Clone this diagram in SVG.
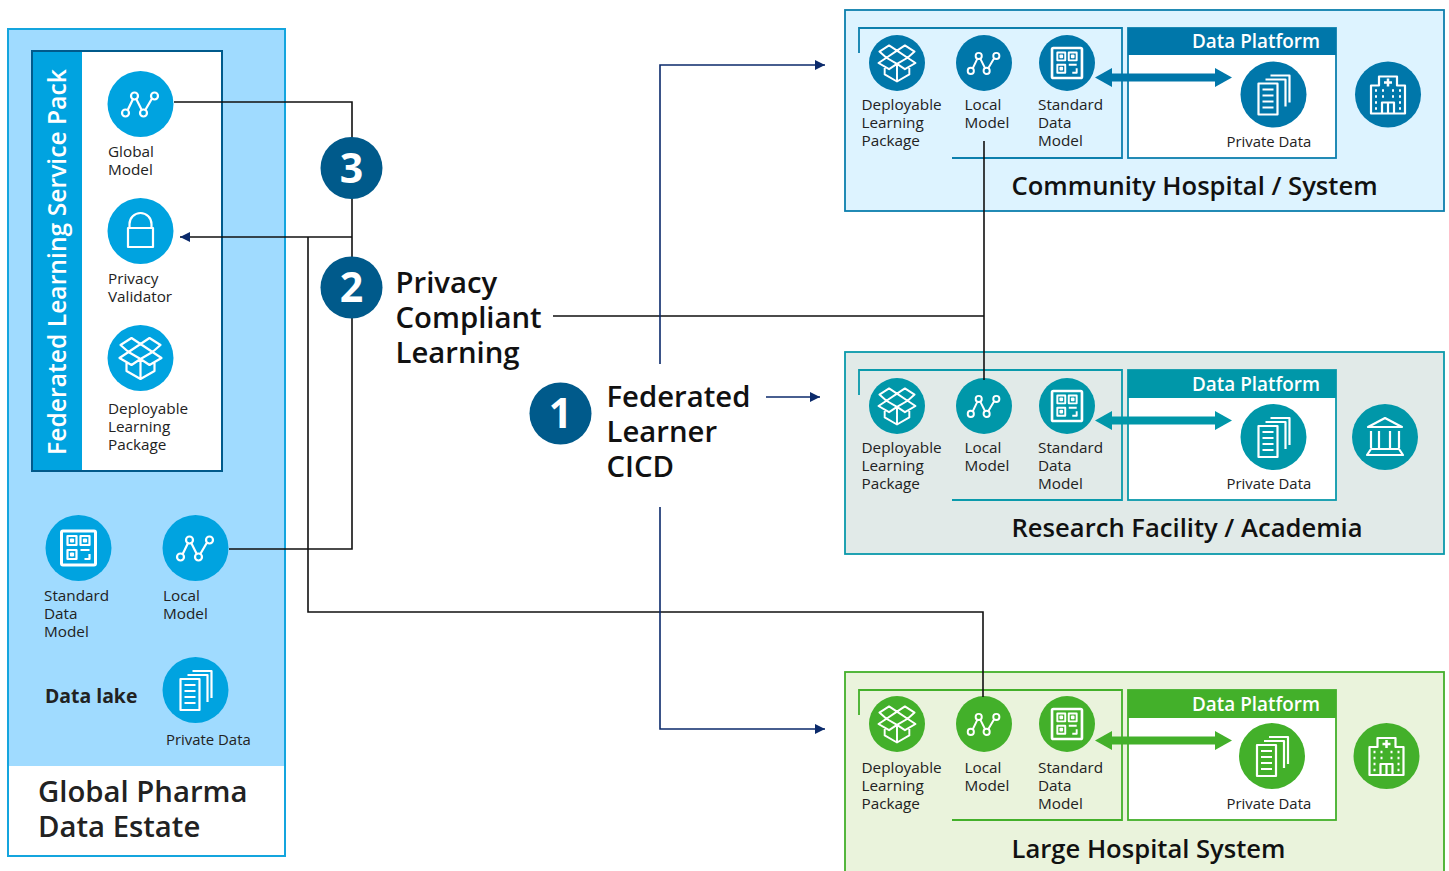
<svg xmlns="http://www.w3.org/2000/svg" xmlns:xlink="http://www.w3.org/1999/xlink" width="1449" height="871" viewBox="0 0 1449 871">
<style>
text{font-family:"Open Sans","Noto Sans","Liberation Sans",sans-serif;fill:#222}
.s{font-size:15.3px;transform:translateY(-.6px)}
.p{font-size:14.900px}
.t{font-size:25.600px;font-weight:600;fill:#111}
.h{font-size:29.300px;font-weight:600;fill:#111}
.dp{font-size:18.900px;font-weight:600;fill:#fff}
.n{font-size:41px;font-weight:700;fill:#fff;text-anchor:middle}
.ic{fill:none;stroke:#fff;stroke-width:2.2;stroke-linejoin:round}
.ln{fill:none;stroke:#111;stroke-width:1.6}
.nv{fill:none;stroke:#0b2a6b;stroke-width:1.6}
.c1{fill:#0077aa}.c2{fill:#0097a9}.c3{fill:#43b02a}.c0{fill:#00a3e0}
.b1{fill:none;stroke:#0c7fad;stroke-width:1.8}.b2{fill:none;stroke:#0a9aab;stroke-width:1.8}.b3{fill:none;stroke:#43b02a;stroke-width:1.8}
.w1{fill:#fff;stroke:#0c7fad;stroke-width:1.8}.w2{fill:#fff;stroke:#0a9aab;stroke-width:1.8}.w3{fill:#fff;stroke:#43b02a;stroke-width:1.8}
</style>
<defs>
<marker id="arr" markerWidth="11" markerHeight="10" refX="10" refY="5" orient="auto-start-reverse" markerUnits="userSpaceOnUse"><path d="M0,0L10,5L0,10z" fill="#0b2a6b"/></marker>
<g id="i-graph" class="ic"><path d="M-13,6.500L-7.500,-5M-4.500,-5.500L1.500,6.500M4.500,6.500L11.500,-5.500"/><circle cx="-15" cy="9" r="3.500"/><circle cx="-6" cy="-8" r="3.500"/><circle cx="3" cy="9" r="3.500"/><circle cx="14" cy="-8" r="3.500"/></g>
<g id="i-box" class="ic"><path d="M-20,-13L-9,-20L0,-14L-12,-6zM20,-13L9,-20L0,-14L12,-6zM-12,-6L0,1L12,-6M-12,-6L-21,0L-9,7L0,1L9,7L21,0L12,-6M-14,4V13L0,21L14,13V4M0,1V21"/></g>
<g id="i-qr" class="ic"><rect x="-17" y="-17" width="34" height="34" rx="1.500" stroke-width="3"/><rect x="-11" y="-12" width="9" height="9"/><rect x="2" y="-12" width="9" height="9"/><rect x="-11" y="2" width="9" height="9"/><path d="M2,2H11M11,6V11H6"/><rect x="-7.500" y="-8.500" width="2" height="2" fill="#fff"/><rect x="5.500" y="-8.500" width="2" height="2" fill="#fff"/><rect x="-7.500" y="5.500" width="2" height="2" fill="#fff"/></g>
<g id="i-doc" class="ic"><path d="M-8,-15H12V12M-3,-19H16V8"/><rect x="-15" y="-11" width="19" height="31"/><path d="M-11,-5H0M-11,1H0M-11,7H0M-11,13H0"/></g>
<g id="i-lock" class="ic"><rect x="-12.500" y="-3" width="25" height="19"/><path d="M-11,-3V-7A11,11 0 0 1 11,-7V-3"/></g>
<g id="i-hosp" class="ic"><path d="M-17,19V-9H-9V-18H9V-9H17V19zM-6,19V8H6V19M0,8V19"/><path d="M0,-16V-8M-4,-12H4" stroke-width="2.500"/><path d="M-13,-4H-11M-6,-4H-4M4,-4H6M11,-4H13M-13,2H-11M-6,2H-4M4,2H6M11,2H13M-13,8H-11M11,8H13M-13,14H-11M11,14H13" stroke-width="2.500"/></g>
<g id="i-bank" class="ic"><path d="M0,-19L-17,-10H17zM-14,-6V11M-6,-6V11M5,-6V11M14,-6V11M-14,12H14L18,18H-18z"/></g>
<g id="i-small-box"><use xlink:href="#i-box" transform="scale(.88)"/></g>
<g id="i-small-graph"><use xlink:href="#i-graph" transform="scale(.88)"/></g>
<g id="i-small-qr"><use xlink:href="#i-qr" transform="scale(.88)"/></g>
</defs>

<g id="pharma">
<rect x="8" y="29" width="277" height="827" fill="#fff" stroke="#14a5de" stroke-width="2"/>
<rect x="9" y="30" width="275" height="736" fill="#a0dbff"/>
<text style="font-size:29.300px;font-weight:600"><tspan x="38" y="802">Global Pharma</tspan><tspan x="38" y="837">Data Estate</tspan></text>
</g>
<g id="service-pack">
<rect x="32" y="51" width="190" height="420" fill="#fff" stroke="#005a8b" stroke-width="2"/>
<rect x="33" y="52" width="49" height="418" class="c0"/>
<text transform="translate(66,455) rotate(-90)" style="font-size:24.700px;font-weight:600;fill:#fff">Federated Learning Service Pack</text>
</g>
<g id="global-model"><circle cx="140.500" cy="104" r="33" class="c0"/><use xlink:href="#i-graph" x="140.500" y="104"/><text class="s"><tspan x="108" y="158">Global</tspan><tspan x="108" y="176">Model</tspan></text></g>
<g id="privacy-validator"><circle cx="140.500" cy="231" r="33" class="c0"/><use xlink:href="#i-lock" x="140.500" y="231"/><text class="s"><tspan x="108" y="285">Privacy</tspan><tspan x="108" y="303">Validator</tspan></text></g>
<g id="deployable-package"><circle cx="140.500" cy="358" r="33" class="c0"/><use xlink:href="#i-box" x="140.500" y="358"/><text class="s"><tspan x="108" y="415">Deployable</tspan><tspan x="108" y="433">Learning</tspan><tspan x="108" y="451">Package</tspan></text></g>
<g id="standard-data-model"><circle cx="78.500" cy="548" r="33" class="c0"/><use xlink:href="#i-qr" x="78.500" y="548"/><text class="s"><tspan x="44" y="602">Standard</tspan><tspan x="44" y="620">Data</tspan><tspan x="44" y="638">Model</tspan></text></g>
<g id="local-model"><circle cx="195.500" cy="548" r="33" class="c0"/><use xlink:href="#i-graph" x="195.500" y="548"/><text class="s"><tspan x="163" y="602">Local</tspan><tspan x="163" y="620">Model</tspan></text></g>
<g id="data-lake"><text x="45" y="703" style="font-size:19.400px;font-weight:700">Data lake</text><circle cx="195.500" cy="690" r="33" class="c0"/><use xlink:href="#i-doc" x="195.500" y="690"/><text class="p" x="166" y="745">Private Data</text></g>

<g id="community">
<rect x="845" y="10" width="599" height="201" fill="#ddf3ff" stroke="#0c7fad" stroke-width="1.8"/>
<path class="b1" d="M859,53V28H1122V158H952"/>
<rect class="w1" x="1128" y="28" width="208" height="130"/>
<rect class="c1" x="1128" y="28" width="208" height="27"/>
<text class="dp" x="1192" y="48">Data Platform</text>
<circle cx="897" cy="63" r="28" class="c1"/><use xlink:href="#i-small-box" x="897" y="63"/>
<circle cx="984" cy="63" r="28" class="c1"/><use xlink:href="#i-small-graph" x="984" y="63"/>
<circle cx="1067" cy="63" r="28" class="c1"/><use xlink:href="#i-small-qr" x="1067" y="63"/>
<circle cx="1273.500" cy="94.500" r="33" class="c1"/><use xlink:href="#i-doc" x="1273.500" y="94.500"/>
<circle cx="1388" cy="94.500" r="33" class="c1"/><use xlink:href="#i-hosp" x="1388" y="94.500"/>
<path class="c1" d="M1095,77.500L1112,68V73.500H1215V68L1232,77.500L1215,87V81.500H1112V87z"/>
<text class="s"><tspan x="861.500" y="111">Deployable</tspan><tspan x="861.500" y="129">Learning</tspan><tspan x="861.500" y="147">Package</tspan></text>
<text class="s"><tspan x="964.500" y="111">Local</tspan><tspan x="964.500" y="129">Model</tspan></text>
<text class="s"><tspan x="1038" y="111">Standard</tspan><tspan x="1038" y="129">Data</tspan><tspan x="1038" y="147">Model</tspan></text>
<text class="p" x="1226.500" y="147">Private Data</text>
<text class="t" x="1011.500" y="195">Community Hospital / System</text>
</g>

<g id="research">
<rect x="845" y="352" width="599" height="202" fill="#e1eae8" stroke="#0a9aab" stroke-width="1.8"/>
<path class="b2" d="M859,395V370H1122V500H952"/>
<rect class="w2" x="1128" y="370" width="208" height="130"/>
<rect class="c2" x="1128" y="370" width="208" height="28"/>
<text class="dp" x="1192" y="391">Data Platform</text>
<circle cx="897" cy="406" r="28" class="c2"/><use xlink:href="#i-small-box" x="897" y="406"/>
<circle cx="984" cy="406" r="28" class="c2"/><use xlink:href="#i-small-graph" x="984" y="406"/>
<circle cx="1067" cy="406" r="28" class="c2"/><use xlink:href="#i-small-qr" x="1067" y="406"/>
<circle cx="1273.500" cy="437" r="33" class="c2"/><use xlink:href="#i-doc" x="1273.500" y="437"/>
<circle cx="1385" cy="437" r="33" class="c2"/><use xlink:href="#i-bank" x="1385" y="437"/>
<path class="c2" d="M1095,420.500L1112,411V416.500H1215V411L1232,420.500L1215,430V424.500H1112V430z"/>
<text class="s"><tspan x="861.500" y="454">Deployable</tspan><tspan x="861.500" y="472">Learning</tspan><tspan x="861.500" y="490">Package</tspan></text>
<text class="s"><tspan x="964.500" y="454">Local</tspan><tspan x="964.500" y="472">Model</tspan></text>
<text class="s"><tspan x="1038" y="454">Standard</tspan><tspan x="1038" y="472">Data</tspan><tspan x="1038" y="490">Model</tspan></text>
<text class="p" x="1226.500" y="489">Private Data</text>
<text class="t" x="1011.500" y="537">Research Facility / Academia</text>
</g>

<g id="large-hospital">
<rect x="845" y="672" width="599" height="210" fill="#eaf3dc" stroke="#43b02a" stroke-width="1.800"/>
<path class="b3" d="M859,715V690H1122V820H952"/>
<rect class="w3" x="1128" y="690" width="208" height="130"/>
<rect class="c3" x="1128" y="690" width="208" height="28"/>
<text class="dp" x="1192" y="711">Data Platform</text>
<circle cx="897" cy="724" r="28" class="c3"/><use xlink:href="#i-small-box" x="897" y="724"/>
<circle cx="984" cy="724" r="28" class="c3"/><use xlink:href="#i-small-graph" x="984" y="724"/>
<circle cx="1067" cy="724" r="28" class="c3"/><use xlink:href="#i-small-qr" x="1067" y="724"/>
<circle cx="1272" cy="756" r="33" class="c3"/><use xlink:href="#i-doc" x="1272" y="756"/>
<circle cx="1386.500" cy="756" r="33" class="c3"/><use xlink:href="#i-hosp" x="1386.500" y="756"/>
<path class="c3" d="M1095,740.500L1112,731V736.500H1215V731L1232,740.500L1215,750V744.500H1112V750z"/>
<text class="s"><tspan x="861.500" y="774">Deployable</tspan><tspan x="861.500" y="792">Learning</tspan><tspan x="861.500" y="810">Package</tspan></text>
<text class="s"><tspan x="964.500" y="774">Local</tspan><tspan x="964.500" y="792">Model</tspan></text>
<text class="s"><tspan x="1038" y="774">Standard</tspan><tspan x="1038" y="792">Data</tspan><tspan x="1038" y="810">Model</tspan></text>
<text class="p" x="1226.500" y="809">Private Data</text>
<text class="t" x="1011.500" y="857.500">Large Hospital System</text>
</g>

<g id="connectors">
<path class="ln" d="M174,102H352V549H229"/>
<path class="ln" d="M352,237H180" marker-end="url(#arr)"/>
<path class="ln" d="M308,237V612H983V697"/>
<path class="ln" d="M553,316H984V380M984,141V316"/>
<path class="nv" d="M660,364V65H825" marker-end="url(#arr)"/>
<path class="nv" d="M766,397H820" marker-end="url(#arr)"/>
<path class="nv" d="M660,507V729H825" marker-end="url(#arr)"/>
</g>

<g id="step-3"><circle cx="351.500" cy="168" r="31" fill="#005a8b"/><text class="n" x="351.500" y="183">3</text></g>
<g id="step-2"><circle cx="351.500" cy="287.500" r="31" fill="#005a8b"/><text class="n" x="351.500" y="302">2</text><text class="h"><tspan x="395.500" y="293">Privacy</tspan><tspan x="395.500" y="328">Compliant</tspan><tspan x="395.500" y="363">Learning</tspan></text></g>
<g id="step-1"><circle cx="560.500" cy="413.500" r="31" fill="#005a8b"/><text class="n" x="560.500" y="428">1</text><text class="h"><tspan x="606.500" y="407">Federated</tspan><tspan x="606.500" y="442">Learner</tspan><tspan x="606.500" y="477">CICD</tspan></text></g>
</svg>
